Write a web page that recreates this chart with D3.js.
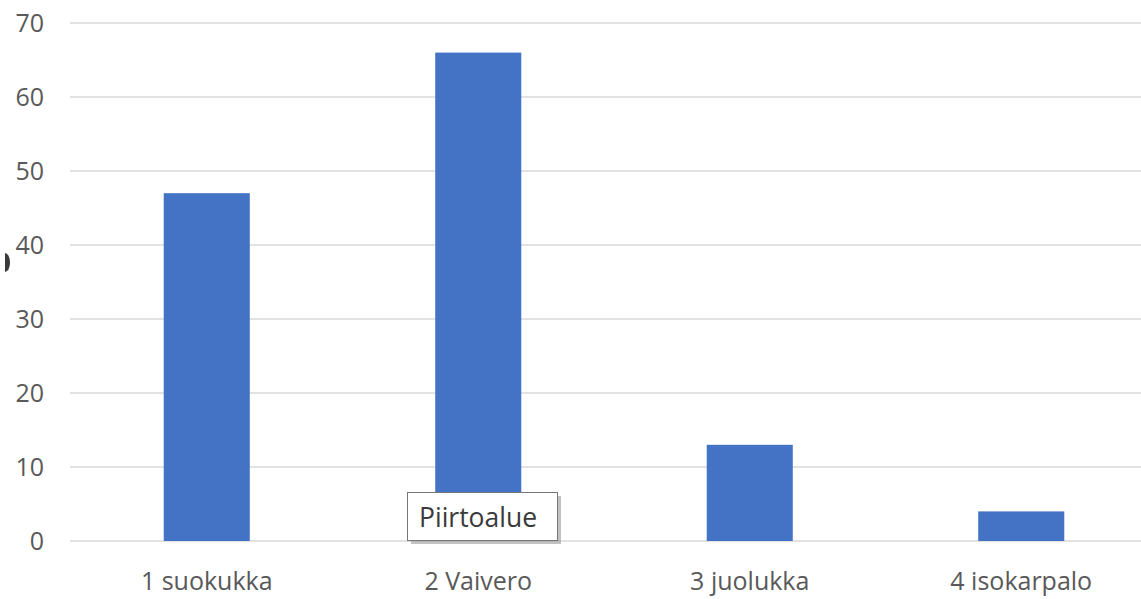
<!DOCTYPE html>
<html>
<head>
<meta charset="utf-8">
<script src="https://cdn.jsdelivr.net/npm/d3@7"></script>
<style>
  body { margin: 0; background: #fff; }
  svg { display: block; }
</style>
</head>
<body>
<svg id="chart" width="1141" height="599"></svg>
<script>
// chart data
const categories = ['1 suokukka', '2 Vaivero', '3 juolukka', '4 isokarpalo']
const values = [47, 66, 13, 4]
const yTicks = [0, 10, 20, 30, 40, 50, 60, 70]
const tooltipText = 'Piirtoalue'

const svg = d3.select('#chart')
const width = 1141
const font = '"Open Sans", "Noto Sans", sans-serif'

// plot area runs past the right edge, like the cropped screenshot
const xScale = d3.scaleBand()
  .domain(categories)
  .range([71, 1157])
  .paddingInner(0.683)
  .paddingOuter(0.3415)

const yScale = d3.scaleLinear()
  .domain([0, 70])
  .range([541, 23])

// Gridlines
svg.append('g')
  .selectAll('line')
  .data(yTicks)
  .enter().append('line')
  .attr('x1', 70)
  .attr('x2', width)
  .attr('y1', d => yScale(d))
  .attr('y2', d => yScale(d))
  .attr('stroke', '#d9d9d9')
  .attr('stroke-width', 1.6)

// Y axis labels
const yAxis = d3.axisLeft(yScale).tickValues(yTicks).tickSize(0).tickPadding(0)
const yg = svg.append('g')
  .attr('transform', 'translate(44,0)')
  .call(yAxis)
yg.select('.domain').remove()
yg.selectAll('text')
  .attr('fill', '#595959')
  .style('font-family', font)
  .style('font-size', '25px')
  .attr('dy', '0.33em')

// Bars
svg.append('g')
  .selectAll('rect')
  .data(values)
  .enter().append('rect')
  .attr('x', (d, i) => xScale(categories[i]))
  .attr('width', xScale.bandwidth())
  .attr('y', d => yScale(d))
  .attr('height', d => yScale(0) - yScale(d))
  .attr('fill', '#4472c4')

// X axis labels
const xAxis = d3.axisBottom(xScale).tickSize(0).tickPadding(0)
const xg = svg.append('g')
  .attr('transform', 'translate(0,590)')
  .call(xAxis)
xg.select('.domain').remove()
xg.selectAll('text')
  .attr('fill', '#595959')
  .attr('dy', 0)
  .style('font-family', font)
  .style('font-size', '25px')

// Tooltip box over the second bar
const tip = svg.append('g').attr('transform', 'translate(407,492)')
tip.append('rect')
  .attr('x', 4).attr('y', 4)
  .attr('width', 150).attr('height', 48)
  .attr('fill', '#9a9a9a')
  .attr('opacity', 0.6)
tip.append('rect')
  .attr('x', 0.5).attr('y', 0.5)
  .attr('width', 150).attr('height', 48)
  .attr('fill', '#fff')
  .attr('stroke', '#767676')
tip.append('text')
  .attr('x', 12).attr('y', 35)
  .attr('fill', '#3a3a3a')
  .style('font-family', font)
  .style('font-size', '26.5px')
  .text(tooltipText)

// cut-off dark mark at the left edge (right half of an ellipse)
svg.append('path')
  .attr('d', 'M5,253 A5,9.5 0 0 1 5,272 Z')
  .attr('fill', '#3a3a3a')
</script>
</body>
</html>
